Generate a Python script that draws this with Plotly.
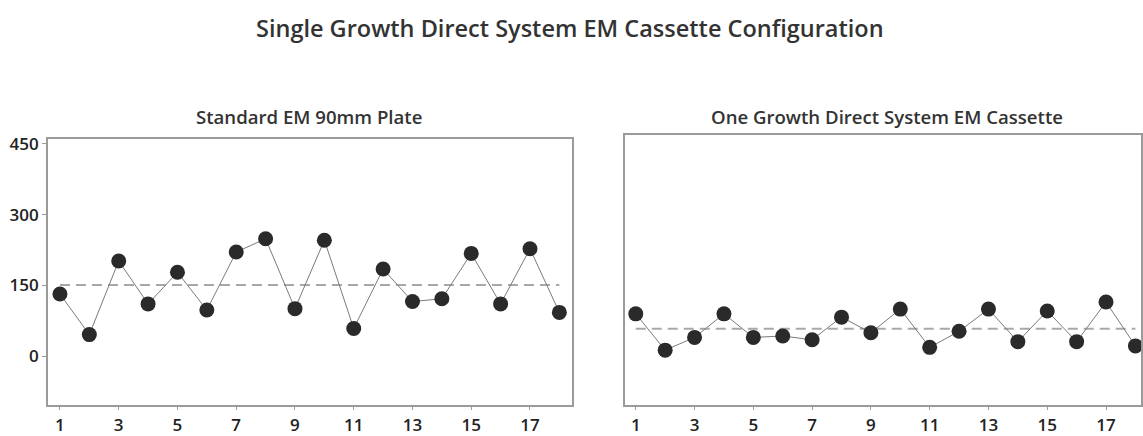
import numpy as np
import plotly.graph_objects as go

runs = list(range(1, 19))
standard_plate = [132, 46, 202, 111, 178, 98, 221, 249, 101, 246, 59, 185, 116, 122, 218, 111, 228, 93]
gd_cassette = [90, 13, 40, 90, 40, 43, 35, 83, 50, 100, 19, 53, 100, 31, 96, 31, 115, 22]
x_ticks = [1, 3, 5, 7, 9, 11, 13, 15, 17]
y_ticks = [0, 150, 300, 450]

main_title = "Single Growth Direct System EM Cassette Configuration"
panel_titles = ["Standard EM 90mm Plate", "One Growth Direct System EM Cassette"]

FONT = "Open Sans"
fig = go.Figure()

for i, vals in enumerate([standard_plate, gd_cassette]):
    xa = "x" if i == 0 else "x2"
    ya = "y" if i == 0 else "y2"
    m = float(np.mean(vals))
    fig.add_trace(go.Scatter(x=[runs[0], runs[-1]], y=[m, m], mode="lines",
                             line=dict(color="#a8a8a8", width=2, dash="10px,6px"),
                             xaxis=xa, yaxis=ya, showlegend=False, hoverinfo="skip"))
    fig.add_trace(go.Scatter(x=runs, y=vals, mode="lines+markers",
                             line=dict(color="#7a7a7a", width=1),
                             marker=dict(color="#2a2a2a", size=15, line=dict(color="#2a2a2a", width=0)),
                             xaxis=xa, yaxis=ya, showlegend=False))

tickfont = dict(family=FONT, size=17, color="#222", weight=600)
axis_common = dict(showline=True, linecolor="#9a9a9a", linewidth=1.5, mirror=True,
                   showgrid=False, zeroline=False, ticklen=4, tickcolor="#9a9a9a",
                   tickfont=tickfont)

fig.update_layout(
    width=1143, height=436,
    margin=dict(l=0, r=0, t=0, b=0),
    paper_bgcolor="white", plot_bgcolor="white",
    xaxis=dict(domain=[48/1143, 573/1143], range=[0.59, 18.43], tickvals=x_ticks,
               ticks="outside", **axis_common),
    yaxis=dict(domain=[29/436, 301/436], range=[-102.5, 460.7], tickvals=y_ticks,
               ticks="outside", **axis_common),
    xaxis2=dict(domain=[626/1143, 1.0], range=[0.63, 18.19], tickvals=x_ticks, anchor="y2",
                ticks="outside", **axis_common),
    yaxis2=dict(domain=[29/436, 305/436], range=[-102.5, 469], tickvals=y_ticks,
                showticklabels=False, anchor="x2", ticks="", **axis_common),
    annotations=[
        dict(text=main_title, x=571/1143, y=1 - 22/436, xref="paper", yref="paper",
             showarrow=False, xanchor="center", yanchor="middle",
             font=dict(family=FONT, size=23.5, color="#333", weight=600)),
        dict(text=panel_titles[0], x=310/1143, y=1 - 112/436, xref="paper", yref="paper",
             showarrow=False, xanchor="center", yanchor="middle",
             font=dict(family=FONT, size=18.6, color="#333", weight=600)),
        dict(text=panel_titles[1], x=889/1143, y=1 - 112/436, xref="paper", yref="paper",
             showarrow=False, xanchor="center", yanchor="middle",
             font=dict(family=FONT, size=18.6, color="#333", weight=600)),
    ],
)

fig.write_html("out.html", config={"displayModeBar": False},
               post_script="document.body.style.margin='0';document.body.style.overflow='hidden';")
